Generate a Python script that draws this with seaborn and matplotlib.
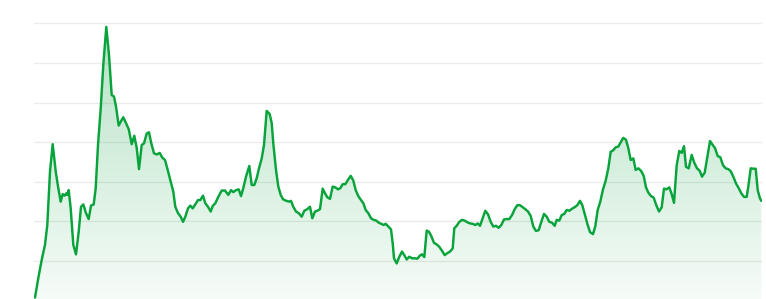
import numpy as np
import pandas as pd
import matplotlib
matplotlib.use("Agg")
import matplotlib.pyplot as plt
import seaborn as sns
from matplotlib.colors import LinearSegmentedColormap

# ---- data ----
days = [0, 3.3, 6.7, 10, 12.3, 15, 17.7, 20.7, 23.3, 25.7, 27.7, 29.7, 31.3, 32.3, 33.7, 35.7,
        38.3, 41, 43.7, 46, 48.3, 51, 53.7, 56, 58.7, 60.7, 63, 65.7, 68.3, 71.3, 74, 76.7, 79,
        81, 83.7, 86, 88.3, 91, 93.7, 96.7, 99.3, 101.7, 104, 106.7, 109, 111.7, 114, 116.3, 119,
        121.7, 124.7, 127.3, 130, 132.7, 135.7, 138.3, 140.3, 143, 145.7, 148, 150.3, 153, 155.3,
        157.7, 160.3, 163, 165.3, 168, 170.3, 173, 175.7, 177.7, 180.3, 183.3, 186.7, 190, 193.3,
        196, 198.3, 201, 203.7, 206, 208.3, 211, 214.3, 216.7, 219.3, 221.7, 224, 226.7, 229,
        231.7, 234.7, 236.7, 238.3, 241, 243.3, 245.7, 248, 251.3, 254.3, 256, 258.3, 261, 263.7,
        266.7, 269.3, 272.3, 275, 277.3, 280, 282.3, 285, 287.7, 290, 292.3, 295, 297.7, 300.3,
        303, 305.3, 307.7, 310.3, 313, 315.7, 318.3, 320.7, 323.3, 326, 328.3, 330.7, 333.3,
        336, 338.7, 341.3, 343.7, 346.3, 348.7, 350.7, 353, 356, 357.7, 359, 361.7, 364.3, 367,
        369.3, 371.7, 374.3, 377, 379.7, 382.3, 385, 387, 389.3, 391.7, 394, 396.3, 399, 401.7,
        404.3, 407, 409.7, 412.3, 415, 417.7, 419.3, 421.7, 424.3, 427, 429.7, 432.3, 435, 437.7,
        440.3, 442.7, 445, 447.7, 450.3, 453, 455.7, 458.3, 461, 463.7, 466.3, 469, 471.7, 474.3,
        477, 479.7, 482.3, 485, 487.7, 490.3, 493, 495.7, 498.3, 501, 503.7, 506.3, 509, 511.7,
        514.3, 517, 519.7, 521.7, 524.3, 526.7, 529.3, 531.7, 534.3, 537, 539.7, 542.3, 545,
        547.3, 550, 552.7, 555, 558, 560.3, 562.7, 565.3, 568, 570.7, 573.3, 575.7, 578, 580.7,
        583.3, 586, 588.3, 591, 593.3, 595.7, 598.3, 600.7, 603.3, 606, 608.7, 611, 613.3, 616,
        618.7, 621.3, 624, 626.7, 629, 631.3, 634.3, 636.7, 639, 641.7, 644.3, 646.7, 649, 651,
        653.7, 656.7, 659.3, 662, 664.7, 667, 669.7, 672.3, 675, 677.7, 680, 682.7, 685.3, 688,
        690.7, 693.3, 695.7, 698.3, 701, 703.7, 706.3, 709, 711.7, 713.3, 715.7, 718.3, 720.7,
        722.7, 725, 726.3]
values = [0.8, 5.7, 10.3, 14.1, 19.1, 32.6, 39.5, 32.6, 28.4, 25.0, 26.9, 26.5, 27.1, 26.7, 27.9,
          23.3, 14.1, 11.7, 17.4, 23.7, 24.3, 22.1, 20.6, 24.0, 24.3, 28.4, 39.3, 48.5, 59.5, 69.1,
          62.0, 51.9, 51.5, 49.0, 44.2, 45.3, 46.3, 44.8, 43.3, 39.5, 41.6, 38.6, 33.2, 39.3, 39.7,
          42.2, 42.5, 39.7, 37.2, 36.9, 37.3, 36.1, 35.5, 33.0, 30.0, 27.5, 23.7, 22.1, 21.2, 19.9,
          21.2, 23.3, 24.0, 23.3, 24.3, 25.4, 25.4, 26.5, 24.6, 23.7, 22.5, 23.9, 24.6, 26.2, 27.8,
          27.8, 26.7, 27.9, 27.4, 27.9, 28.1, 26.4, 28.4, 31.3, 34.0, 29.2, 29.2, 30.9, 33.4, 35.9,
          39.3, 47.9, 47.1, 44.8, 39.7, 33.0, 28.8, 26.7, 25.6, 25.2, 25.0, 25.2, 23.7, 22.5, 22.1,
          21.2, 22.7, 23.1, 23.7, 20.8, 22.5, 22.7, 23.1, 28.3, 27.1, 26.1, 25.7, 28.8, 28.6, 28.1,
          28.4, 29.4, 29.4, 30.5, 31.5, 30.3, 27.9, 26.4, 25.4, 24.6, 22.9, 22.1, 20.8, 20.4, 20.2,
          19.7, 19.4, 19.1, 19.4, 18.8, 18.0, 14.5, 10.7, 9.4, 11.1, 12.4, 11.5, 10.4, 11.1, 10.7,
          10.7, 10.6, 11.4, 11.7, 11.0, 17.7, 17.4, 16.3, 14.6, 14.2, 13.6, 12.6, 11.5, 12.0, 12.4,
          13.2, 18.3, 18.9, 19.9, 20.4, 20.2, 19.8, 19.5, 19.4, 19.1, 19.5, 18.9, 20.8, 22.7, 21.8,
          19.9, 18.7, 18.9, 18.4, 19.1, 20.5, 20.6, 20.6, 21.6, 23.1, 24.1, 24.1, 23.6, 23.1, 22.5,
          21.4, 18.7, 17.6, 17.8, 19.9, 21.9, 21.2, 19.9, 19.7, 18.9, 20.4, 20.2, 21.6, 21.9, 22.9,
          22.7, 23.2, 23.6, 24.1, 25.2, 24.1, 21.6, 19.1, 17.3, 16.8, 18.8, 22.9, 25.0, 28.1, 30.3,
          33.4, 37.6, 37.9, 38.7, 38.9, 40.1, 41.1, 40.6, 38.5, 35.5, 35.9, 33.0, 33.4, 32.8, 31.5,
          28.6, 27.3, 26.4, 26.0, 24.1, 22.5, 23.6, 28.3, 28.1, 28.6, 26.9, 24.7, 34.2, 37.8, 37.3,
          39.0, 33.8, 33.4, 36.8, 34.8, 33.4, 32.8, 31.3, 32.3, 36.3, 40.3, 39.3, 38.5, 36.5, 36.2,
          34.2, 33.4, 33.2, 32.7, 31.3, 29.6, 28.4, 27.1, 26.2, 26.2, 28.8, 33.4, 33.3, 33.3, 27.9,
          25.8, 25.2]
grid_levels = [10, 20, 30, 40, 50, 60, 70]

n = min(len(days), len(values))
df = pd.DataFrame({"day": days[:n], "value": values[:n]})

LINE = "#07a33b"

sns.set_theme(style="white")
fig = plt.figure(figsize=(7.66, 2.99), dpi=100)
ax = fig.add_axes([34 / 766, 0, 728 / 766, 1])
ax.set_xlim(-1, 727)
ymin, ymax = 0.43, 75.88
ax.set_ylim(ymin, ymax)

for g in grid_levels:
    ax.axhline(g, color="#ebebeb", lw=1.0, zorder=0)

# gradient fill under the line
poly = ax.fill_between(df["day"], df["value"], ymin - 5, color="none", lw=0)
cmap = LinearSegmentedColormap.from_list(
    "g", [(0.05, 0.63, 0.24, 0.04), (0.05, 0.63, 0.24, 0.30)])
grad = np.linspace(0, 1, 256).reshape(-1, 1)
im = ax.imshow(grad, cmap=cmap, aspect="auto", origin="lower",
               extent=[-1, 727, ymin, max(values)], zorder=1)
im.set_clip_path(poly.get_paths()[0], transform=ax.transData)

sns.lineplot(data=df, x="day", y="value", ax=ax, color=LINE, lw=1.75, zorder=3)

ax.set_xlabel("")
ax.set_ylabel("")
ax.set_xticks([])
ax.set_yticks([])
for s in ax.spines.values():
    s.set_visible(False)
ax.patch.set_alpha(0)

fig.savefig("out.png", dpi=100)
